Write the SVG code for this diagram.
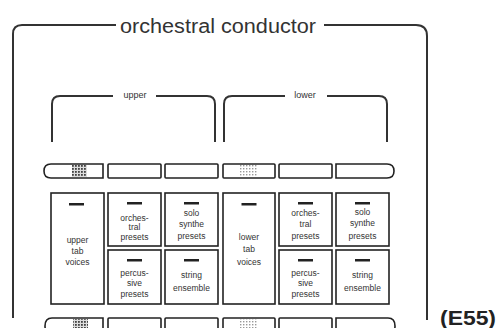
<svg xmlns="http://www.w3.org/2000/svg" width="498" height="328" viewBox="0 0 498 328">
<defs>
<pattern id="dots" width="3" height="3" patternUnits="userSpaceOnUse">
<rect width="3" height="3" fill="#ddd"/>
<rect width="1.8" height="1.8" fill="#444"/>
</pattern>
<pattern id="dotsLight" width="3" height="3" patternUnits="userSpaceOnUse">
<rect width="3" height="3" fill="#fff"/>
<rect width="1.4" height="1.4" fill="#999"/>
</pattern>
<style>
.br{fill:none;stroke:#333;stroke-width:2}
.bx{fill:#fff;stroke:#222;stroke-width:1.6}
.bar{fill:#222}
.t{font-family:"Liberation Sans",Arial,sans-serif;font-size:8.5px;fill:#333;text-anchor:middle}
.hd{font-family:"Liberation Sans",Arial,sans-serif;fill:#333;text-anchor:middle}
</style>
</defs>
<rect width="498" height="328" fill="#fff"/>

<g id="conductor">
<path class="br" d="M116 25 H22 Q13 25 13 34 V318"/>
<path class="br" d="M324 25 H416 Q427 25 427 36 V320"/>
<text class="hd" x="218" y="33" font-size="20" textLength="196" lengthAdjust="spacingAndGlyphs">orchestral  conductor</text>
</g>

<g id="upper">
<path class="br" d="M113 96 H60 Q52 96 52 104 V142"/>
<path class="br" d="M156 96 H207 Q215 96 215 104 V142"/>
<text class="hd" x="135" y="98" font-size="9">upper</text>
</g>

<g id="lower">
<path class="br" d="M285 96 H232 Q224 96 224 104 V142"/>
<path class="br" d="M327 96 H379 Q387 96 387 104 V142"/>
<text class="hd" x="305" y="98" font-size="9">lower</text>
</g>

<g id="top-row">
<path class="bx" d="M103 164 V178 H51 Q44 178 44 171 Q44 164 51 164 Z"/>
<rect x="72" y="165" width="15" height="12" fill="url(#dots)"/>
<rect class="bx" x="108" y="164" width="53" height="14" rx="1"/>
<rect class="bx" x="165" y="164" width="53" height="14" rx="1"/>
<rect class="bx" x="223" y="164" width="52" height="14" rx="1"/>
<rect x="240" y="165" width="17" height="12" fill="url(#dotsLight)"/>
<rect class="bx" x="279" y="164" width="53" height="14" rx="1"/>
<path class="bx" d="M336 164 H387 Q394 164 394 171 Q394 178 387 178 H336 Z"/>
</g>

<g id="upper-tab-voices">
<rect class="bx" x="51" y="193" width="53" height="111"/>
<rect class="bar" x="69" y="203" width="15" height="2.5"/>
<text class="t" x="77.5" y="243">upper</text>
<text class="t" x="77.5" y="254">tab</text>
<text class="t" x="77.5" y="265">voices</text>
</g>

<g id="upper-orchestral">
<rect class="bx" x="108" y="193" width="53" height="53"/>
<rect class="bar" x="127" y="202" width="15" height="2.5"/>
<text class="t" x="134.5" y="221">orches-</text>
<text class="t" x="134.5" y="230">tral</text>
<text class="t" x="134.5" y="240">presets</text>
</g>

<g id="upper-solo">
<rect class="bx" x="165" y="193" width="53" height="53"/>
<rect class="bar" x="184" y="202" width="15" height="2.5"/>
<text class="t" x="191.5" y="216">solo</text>
<text class="t" x="191.5" y="227">synthe</text>
<text class="t" x="191.5" y="239">presets</text>
</g>

<g id="upper-percussive">
<rect class="bx" x="108" y="250" width="53" height="54"/>
<rect class="bar" x="127" y="259" width="15" height="2.5"/>
<text class="t" x="134.5" y="276">percus-</text>
<text class="t" x="134.5" y="286">sive</text>
<text class="t" x="134.5" y="297">presets</text>
</g>

<g id="upper-string">
<rect class="bx" x="165" y="250" width="53" height="54"/>
<rect class="bar" x="184" y="259" width="15" height="2.5"/>
<text class="t" x="191.5" y="278">string</text>
<text class="t" x="191.5" y="291">ensemble</text>
</g>

<g id="lower-tab-voices">
<rect class="bx" x="223" y="193" width="52" height="111"/>
<rect class="bar" x="241.5" y="203" width="15" height="2.5"/>
<text class="t" x="249" y="240">lower</text>
<text class="t" x="249" y="252">tab</text>
<text class="t" x="249" y="265">voices</text>
</g>

<g id="lower-orchestral">
<rect class="bx" x="279" y="193" width="53" height="53"/>
<rect class="bar" x="298" y="202" width="15" height="2.5"/>
<text class="t" x="305.5" y="216">orches-</text>
<text class="t" x="305.5" y="227">tral</text>
<text class="t" x="305.5" y="239">presets</text>
</g>

<g id="lower-solo">
<rect class="bx" x="336" y="193" width="53" height="53"/>
<rect class="bar" x="355" y="202" width="15" height="2.5"/>
<text class="t" x="362.5" y="215">solo</text>
<text class="t" x="362.5" y="226">synthe</text>
<text class="t" x="362.5" y="239">presets</text>
</g>

<g id="lower-percussive">
<rect class="bx" x="279" y="250" width="53" height="54"/>
<rect class="bar" x="298" y="259" width="15" height="2.5"/>
<text class="t" x="305.5" y="276">percus-</text>
<text class="t" x="305.5" y="286">sive</text>
<text class="t" x="305.5" y="297">presets</text>
</g>

<g id="lower-string">
<rect class="bx" x="336" y="250" width="53" height="54"/>
<rect class="bar" x="355" y="259" width="15" height="2.5"/>
<text class="t" x="362.5" y="278">string</text>
<text class="t" x="362.5" y="291">ensemble</text>
</g>

<g id="bottom-row">
<path class="bx" d="M103 318 V334 H52 Q45 334 45 326 Q45 318 52 318 Z"/>
<rect x="73" y="319" width="15" height="10" fill="url(#dots)"/>
<rect class="bx" x="108" y="318" width="53" height="16" rx="1"/>
<rect class="bx" x="165" y="318" width="53" height="16" rx="1"/>
<rect class="bx" x="223" y="318" width="52" height="16" rx="1"/>
<rect x="240" y="319" width="17" height="10" fill="url(#dotsLight)"/>
<rect class="bx" x="279" y="318" width="53" height="16" rx="1"/>
<path class="bx" d="M336 318 H388 Q395 318 395 326 Q395 334 388 334 H336 Z"/>
</g>

<g id="label">
<text x="440" y="325" font-family="'Liberation Sans',Arial,sans-serif" font-weight="bold" font-size="21" fill="#222" textLength="56" lengthAdjust="spacingAndGlyphs">(E55)</text>
</g>
</svg>
